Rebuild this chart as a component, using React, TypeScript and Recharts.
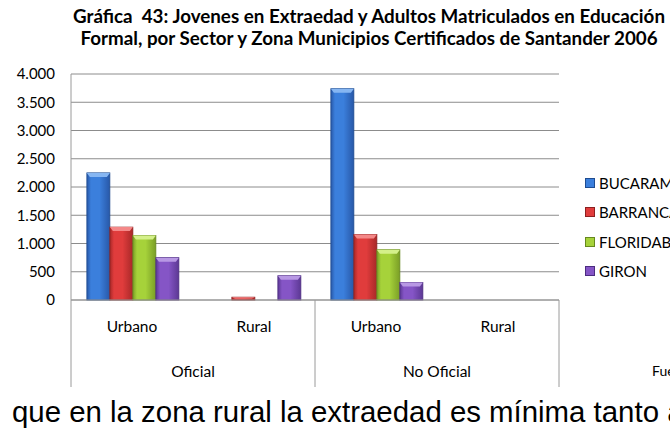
import React from 'react';
import { BarChart, Bar, XAxis, YAxis, CartesianGrid, Legend } from 'recharts';

const zonas = ['Urbano', 'Rural', 'Urbano', 'Rural'];
const sectores = ['Oficial', 'Oficial', 'No Oficial', 'No Oficial'];
const bucaramanga = [2250, 0, 3740, 0];
const barrancabermeja = [1290, 50, 1160, 0];
const floridablanca = [1140, 0, 890, 0];
const giron = [750, 430, 310, 0];
const yTicks = [0, 500, 1000, 1500, 2000, 2500, 3000, 3500, 4000];
const seriesNames = ['BUCARAMANGA', 'BARRANCABERMEJA', 'FLORIDABLANCA', 'GIRON'];
const seriesValues = [bucaramanga, barrancabermeja, floridablanca, giron];

const seriesStyles = [
  { mid: '#3b7fdc', edge: '#2858a8', light: '#86b6f2', dark: '#1f4c90' },
  { mid: '#e03c3c', edge: '#a82828', light: '#f48888', dark: '#8c2020' },
  { mid: '#a6d23a', edge: '#7a9e26', light: '#d4f08a', dark: '#66881e' },
  { mid: '#8555c6', edge: '#5c3894', light: '#b898e4', dark: '#4c2c80' },
];

const data = zonas.map((z, i) => {
  const row: Record<string, string | number> = { zona: z, sector: sectores[i] };
  seriesNames.forEach((n, k) => {
    row[n] = seriesValues[k][i];
  });
  return row;
});

const CAL = 'Lato, "Open Sans", sans-serif';
const LINE = '#9a9a9a';

const fmt = (v: number) => String(v).replace(/\B(?=(\d{3})+(?!\d))/g, '.');

const makeShape = (k: number) => (props: any) => {
  const { x, y, width, height } = props;
  if (!height || height <= 0) return null;
  const s = seriesStyles[k];
  const b = Math.min(4, height / 2);
  const inset = Math.min(3, width / 4);
  return (
    <g>
      <rect x={x} y={y} width={width} height={height} fill={`url(#grad${k})`} stroke={s.dark} strokeWidth={0.8} />
      <polygon
        points={`${x},${y} ${x + width},${y} ${x + width - inset},${y + b} ${x + inset},${y + b}`}
        fill={s.light}
      />
    </g>
  );
};

const ZoneTick = (props: any) => {
  const { x, y, payload } = props;
  const i: number = payload?.index ?? props.index ?? 0;
  const off: number = payload?.offset ?? 61;
  const isGroupStart = i === 0 || sectores[i] !== sectores[i - 1];
  const isLast = i === zonas.length - 1;
  let n = 1;
  while (i + n < sectores.length && sectores[i + n] === sectores[i]) n++;
  return (
    <g>
      <text x={x} y={y + 26} textAnchor="middle" dominantBaseline="central" fontFamily={CAL} fontSize={15.5} fill="#000">
        {zonas[i]}
      </text>
      {isGroupStart && (
        <>
          <line x1={x - off} x2={x - off} y1={y} y2={y + 87} stroke={LINE} strokeWidth={1} />
          <text
            x={x - off + n * off}
            y={y + 71}
            textAnchor="middle"
            dominantBaseline="central"
            fontFamily={CAL}
            fontSize={15.5}
            fill="#000"
          >
            {sectores[i]}
          </text>
        </>
      )}
      {isLast && <line x1={x + off} x2={x + off} y1={y} y2={y + 87} stroke={LINE} strokeWidth={1} />}
    </g>
  );
};

const LegendContent = () => (
  <div style={{ fontFamily: CAL, fontSize: 15, color: '#000', whiteSpace: 'nowrap' }}>
    {seriesNames.map((n, k) => (
      <div key={n} style={{ height: 29.5, display: 'flex', alignItems: 'center' }}>
        <span
          style={{
            display: 'inline-block',
            width: 8,
            height: 8,
            background: seriesStyles[k].mid,
            border: `1px solid ${seriesStyles[k].dark}`,
            marginRight: 4,
          }}
        />
        <span>{n}</span>
      </div>
    ))}
  </div>
);

export default function App() {
  return (
    <div
      style={{
        position: 'absolute',
        left: 0,
        top: 0,
        width: 670,
        height: 429,
        overflow: 'hidden',
        background: '#fff',
      }}
    >
      <div
        style={{
          position: 'absolute',
          left: 0,
          top: 5,
          width: 738,
          textAlign: 'center',
          fontFamily: CAL,
          fontWeight: 'bold',
          fontSize: 18.8,
          lineHeight: '22px',
          whiteSpace: 'nowrap',
          color: '#000',
        }}
      >
        <div>Gráfica&nbsp; 43: Jovenes en Extraedad y Adultos Matriculados en Educación</div>
        <div>Formal, por Sector y Zona Municipios Certificados de Santander 2006</div>
      </div>
      <BarChart
        width={670}
        height={429}
        data={data}
        margin={{ top: 74, right: 111, bottom: 42, left: 0 }}
        barCategoryGap="13%"
        barGap={0}
      >
        <defs>
          {seriesStyles.map((s, k) => (
            <linearGradient key={k} id={`grad${k}`} x1="0" y1="0" x2="1" y2="0">
              <stop offset="0%" stopColor={s.edge} />
              <stop offset="18%" stopColor={s.mid} />
              <stop offset="55%" stopColor={s.mid} />
              <stop offset="100%" stopColor={s.edge} />
            </linearGradient>
          ))}
        </defs>
        <CartesianGrid vertical={false} stroke="#8c8c8c" />
        <XAxis
          dataKey="zona"
          height={87}
          interval={0}
          tickLine={false}
          tickSize={0}
          tickMargin={0}
          axisLine={{ stroke: LINE }}
          tick={<ZoneTick />}
        />
        <YAxis
          width={71}
          domain={[0, 4000]}
          ticks={yTicks}
          interval={0}
          tickLine={false}
          tickSize={0}
          tickMargin={16}
          axisLine={{ stroke: LINE }}
          tickFormatter={fmt}
          tick={{ fontFamily: CAL, fontSize: 15, fill: '#000' }}
        />
        <Legend
          layout="vertical"
          align="center"
          verticalAlign="middle"
          content={<LegendContent />}
          wrapperStyle={{ left: 585, top: 168, width: 'auto', height: 'auto' }}
        />
        {seriesNames.map((n, k) => (
          <Bar key={n} dataKey={n} name={n} fill={seriesStyles[k].mid} shape={makeShape(k)} isAnimationActive={false} />
        ))}
      </BarChart>
      <div
        style={{
          position: 'absolute',
          left: 12,
          top: 362,
          fontFamily: CAL,
          fontSize: 14,
          whiteSpace: 'nowrap',
          color: '#000',
          paddingLeft: 640,
        }}
      >
        Fuente:
      </div>
      <div
        style={{
          position: 'absolute',
          left: 12,
          top: 395,
          fontFamily: '"Liberation Sans", Arial, sans-serif',
          fontSize: 29.4,
          lineHeight: '33px',
          whiteSpace: 'nowrap',
          color: '#000',
        }}
      >
        que en la zona rural la extraedad es mínima tanto a
      </div>
    </div>
  );
}
